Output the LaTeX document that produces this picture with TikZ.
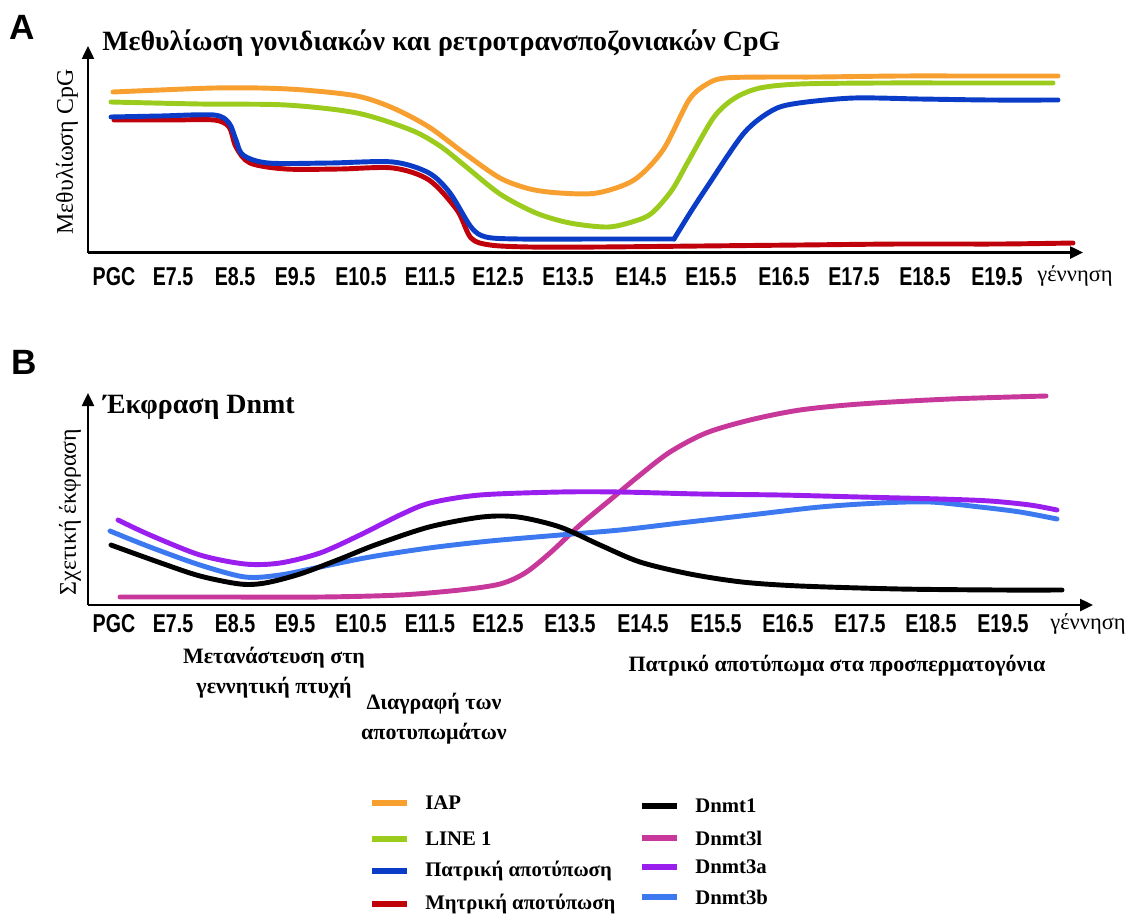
\documentclass[tikz,border=0pt]{standalone}
\usepackage{fontspec}
\setmainfont{Liberation Serif}
\newfontfamily\tickfont[FakeStretch=0.76]{Liberation Sans}
\newfontfamily\panelfont{Liberation Sans}
\usetikzlibrary{arrows.meta}
\definecolor{iap}{HTML}{F7A030}
\definecolor{lineone}{HTML}{9BCB1C}
\definecolor{pat}{HTML}{0A3CC8}
\definecolor{mat}{HTML}{C0000A}
\definecolor{dtl}{HTML}{C8379A}
\definecolor{dta}{HTML}{9A1EEE}
\definecolor{dtb}{HTML}{3C78F0}
\tikzset{
  axisline/.style={line width=1.4pt,-{Triangle[length=0.26cm,width=0.24cm]}},
  curve/.style={line width=2.8pt,line cap=round,line join=round},
  tick/.style={font=\tickfont\bfseries\fontsize{14.7pt}{16pt}\selectfont,inner sep=0pt},
  birth/.style={font=\fontsize{12.8pt}{14pt}\selectfont,inner sep=0pt},
  ttl/.style={font=\bfseries\fontsize{15.9pt}{18pt}\selectfont,inner sep=0pt,anchor=base west},
  ylab/.style={font=\fontsize{13.6pt}{15pt}\selectfont,inner sep=0pt,rotate=90},
  panel/.style={font=\panelfont\bfseries\fontsize{20pt}{22pt}\selectfont,inner sep=0pt},
  note/.style={font=\bfseries\fontsize{12.5pt}{14pt}\selectfont,inner sep=0pt,align=center},
  legtext/.style={font=\bfseries\fontsize{11.8pt}{13pt}\selectfont,inner sep=0pt,anchor=west},
  legline/.style={line width=3.2pt}
}
\begin{document}
\begin{tikzpicture}[x=0.02cm,y=-0.02cm]
\path[fill=white,use as bounding box] (0,0) rectangle (1136,913);

% ---------------- Panel A ----------------
\node[panel] (pA) at (22,27) {A};
\node[ttl] (tA) at (102,50) {Μεθυλίωση γονιδιακών και ρετροτρανσποζονιακών CpG};
\coordinate (oA) at (88,252.5);
\coordinate (yA) at (88,46);
\coordinate (xA) at (1083,252.5);
\node[ylab] (ylA) at (67,152) {Μεθυλίωση CpG};

% curves A
\draw[curve,color=iap] plot[smooth,tension=0.5] coordinates {(113,92) (160,90) (214,88) (260,88) (304,90) (357,96) (393,108) (429,127) (464,153) (500,178) (530,189) (560,193) (597,193) (634,180) (663,150) (689,100) (707,84) (725,78) (770,77) (817,77) (900,76) (980,76) (1058,76)};
\draw[curve,color=lineone] plot[smooth,tension=0.5] coordinates {(111,102) (200,104) (286,105) (357,113) (411,130) (440,146) (464,165) (500,194) (536,213) (570,223) (608,227) (635,221) (652,213) (672,190) (689,160) (714,117) (735,98) (760,88) (800,84) (880,83) (970,83) (1053,83)};
\draw[curve,color=mat] plot[smooth,tension=0.5] coordinates {(114,120) (170,120) (214,120) (229,127) (236,147) (250,163) (286,169) (340,169) (393,168) (429,180) (457,210) (471,238) (490,245) (530,247) (600,247) (700,246) (800,245) (900,244) (1000,244) (1073,243)};
\draw[curve,color=pat] plot[smooth,tension=0.5] coordinates {(111,117) (160,116) (214,115) (229,123) (236,140) (243,155) (268,163) (330,163) (393,162) (429,173) (450,193) (471,227) (486,237) (520,239) (600,239) (674,239)};
\draw[curve,color=pat] plot[smooth,tension=0.5] coordinates {(674,239) (690,213) (707,187) (744,133) (773,110) (799,103) (854,98) (920,99) (990,100) (1058,100)};

\draw[axisline] (oA) -- (yA);
\draw[axisline] (oA) -- (xA);

\foreach \lab/\xx in {PGC/114,E7.5/173,E8.5/235,E9.5/295,E10.5/361,E11.5/430,E12.5/498,E13.5/568,E14.5/641,E15.5/711,E16.5/784,E17.5/854,E18.5/925,E19.5/997}
  \node[tick] (tA\lab) at (\xx,277) {\lab};
\node[birth] (bA) at (1075,276) {γέννηση};

% ---------------- Panel B ----------------
\node[panel] (pB) at (24,362) {B};
\node[ttl] (tB) at (103,413) {Έκφραση Dnmt};
\coordinate (oB) at (88,605);
\coordinate (yB) at (88,393);
\coordinate (xB) at (1093,605);
\node[ylab] (ylB) at (70,512) {Σχετική έκφραση};

\draw[curve,color=dtl] plot[smooth,tension=0.5] coordinates {(120,597) (220,597) (321,597) (400,595) (460,590) (500,584) (525,573) (550,553) (580,525) (610,500) (640,475) (670,452) (706,433) (750,420) (800,410) (860,404) (950,399) (1046,396)};
\draw[curve,color=dtb] plot[smooth,tension=0.5] coordinates {(110,531) (150,547) (200,565) (245,577) (280,575) (320,567) (370,557) (429,548) (490,541) (560,535) (620,530) (680,523) (750,515) (820,507) (880,503) (930,502) (980,507) (1020,512) (1057,519)};
\draw[curve,color=black] plot[smooth,tension=0.5] coordinates {(111,545) (161,563) (200,576) (240,584) (265,583) (300,574) (340,559) (375,545) (429,527) (482,517) (518,517) (560,527) (600,545) (640,562) (690,574) (742,582) (800,586) (900,589) (1000,590) (1062,590)};
\draw[curve,color=dta] plot[smooth,tension=0.5] coordinates {(118,520) (150,535) (200,555) (245,564) (280,563) (320,553) (360,535) (400,515) (430,503) (480,495) (560,492) (620,492) (700,494) (780,495) (860,497) (940,499) (990,501) (1030,505) (1057,510)};

\draw[axisline] (oB) -- (yB);
\draw[axisline] (oB) -- (xB);

\foreach \lab/\xx in {PGC/114,E7.5/173,E8.5/235,E9.5/295,E10.5/361,E11.5/430,E12.5/498,E13.5/570,E14.5/643,E15.5/716,E16.5/788,E17.5/860,E18.5/931,E19.5/1003}
  \node[tick] (tB\lab) at (\xx,624) {\lab};
\node[birth] (bB) at (1088,624) {γέννηση};

\node[note] (n1) at (274,673) {Μετανάστευση στη\\[3pt]γεννητική πτυχή};
\node[note] (n2) at (434,719) {Διαγραφή των\\[3pt]αποτυπωμάτων};
\node[note] (n3) at (837,666) {Πατρικό αποτύπωμα στα προσπερματογόνια};

% ---------------- Legend ----------------
\foreach \nm/\col/\yy/\txt in {la/iap/803/IAP, lb/lineone/839/LINE 1, lc/pat/871/Πατρική αποτύπωση, ld/mat/904/Μητρική αποτύπωση}{
  \coordinate (\nm1) at (372,\yy);
  \coordinate (\nm2) at (407,\yy);
  \draw[legline,color=\col] (\nm1) -- (\nm2);
  \node[legtext] (\nm t) at (425,\yy) {\txt};
}
\foreach \nm/\col/\yy/\txt in {ra/black/806/Dnmt1, rb/dtl/838/Dnmt3l, rc/dta/867/Dnmt3a, rd/dtb/897/Dnmt3b}{
  \coordinate (\nm1) at (642,\yy);
  \coordinate (\nm2) at (677,\yy);
  \draw[legline,color=\col] (\nm1) -- (\nm2);
  \node[legtext] (\nm t) at (695,\yy) {\txt};
}
\end{tikzpicture}
\end{document}
